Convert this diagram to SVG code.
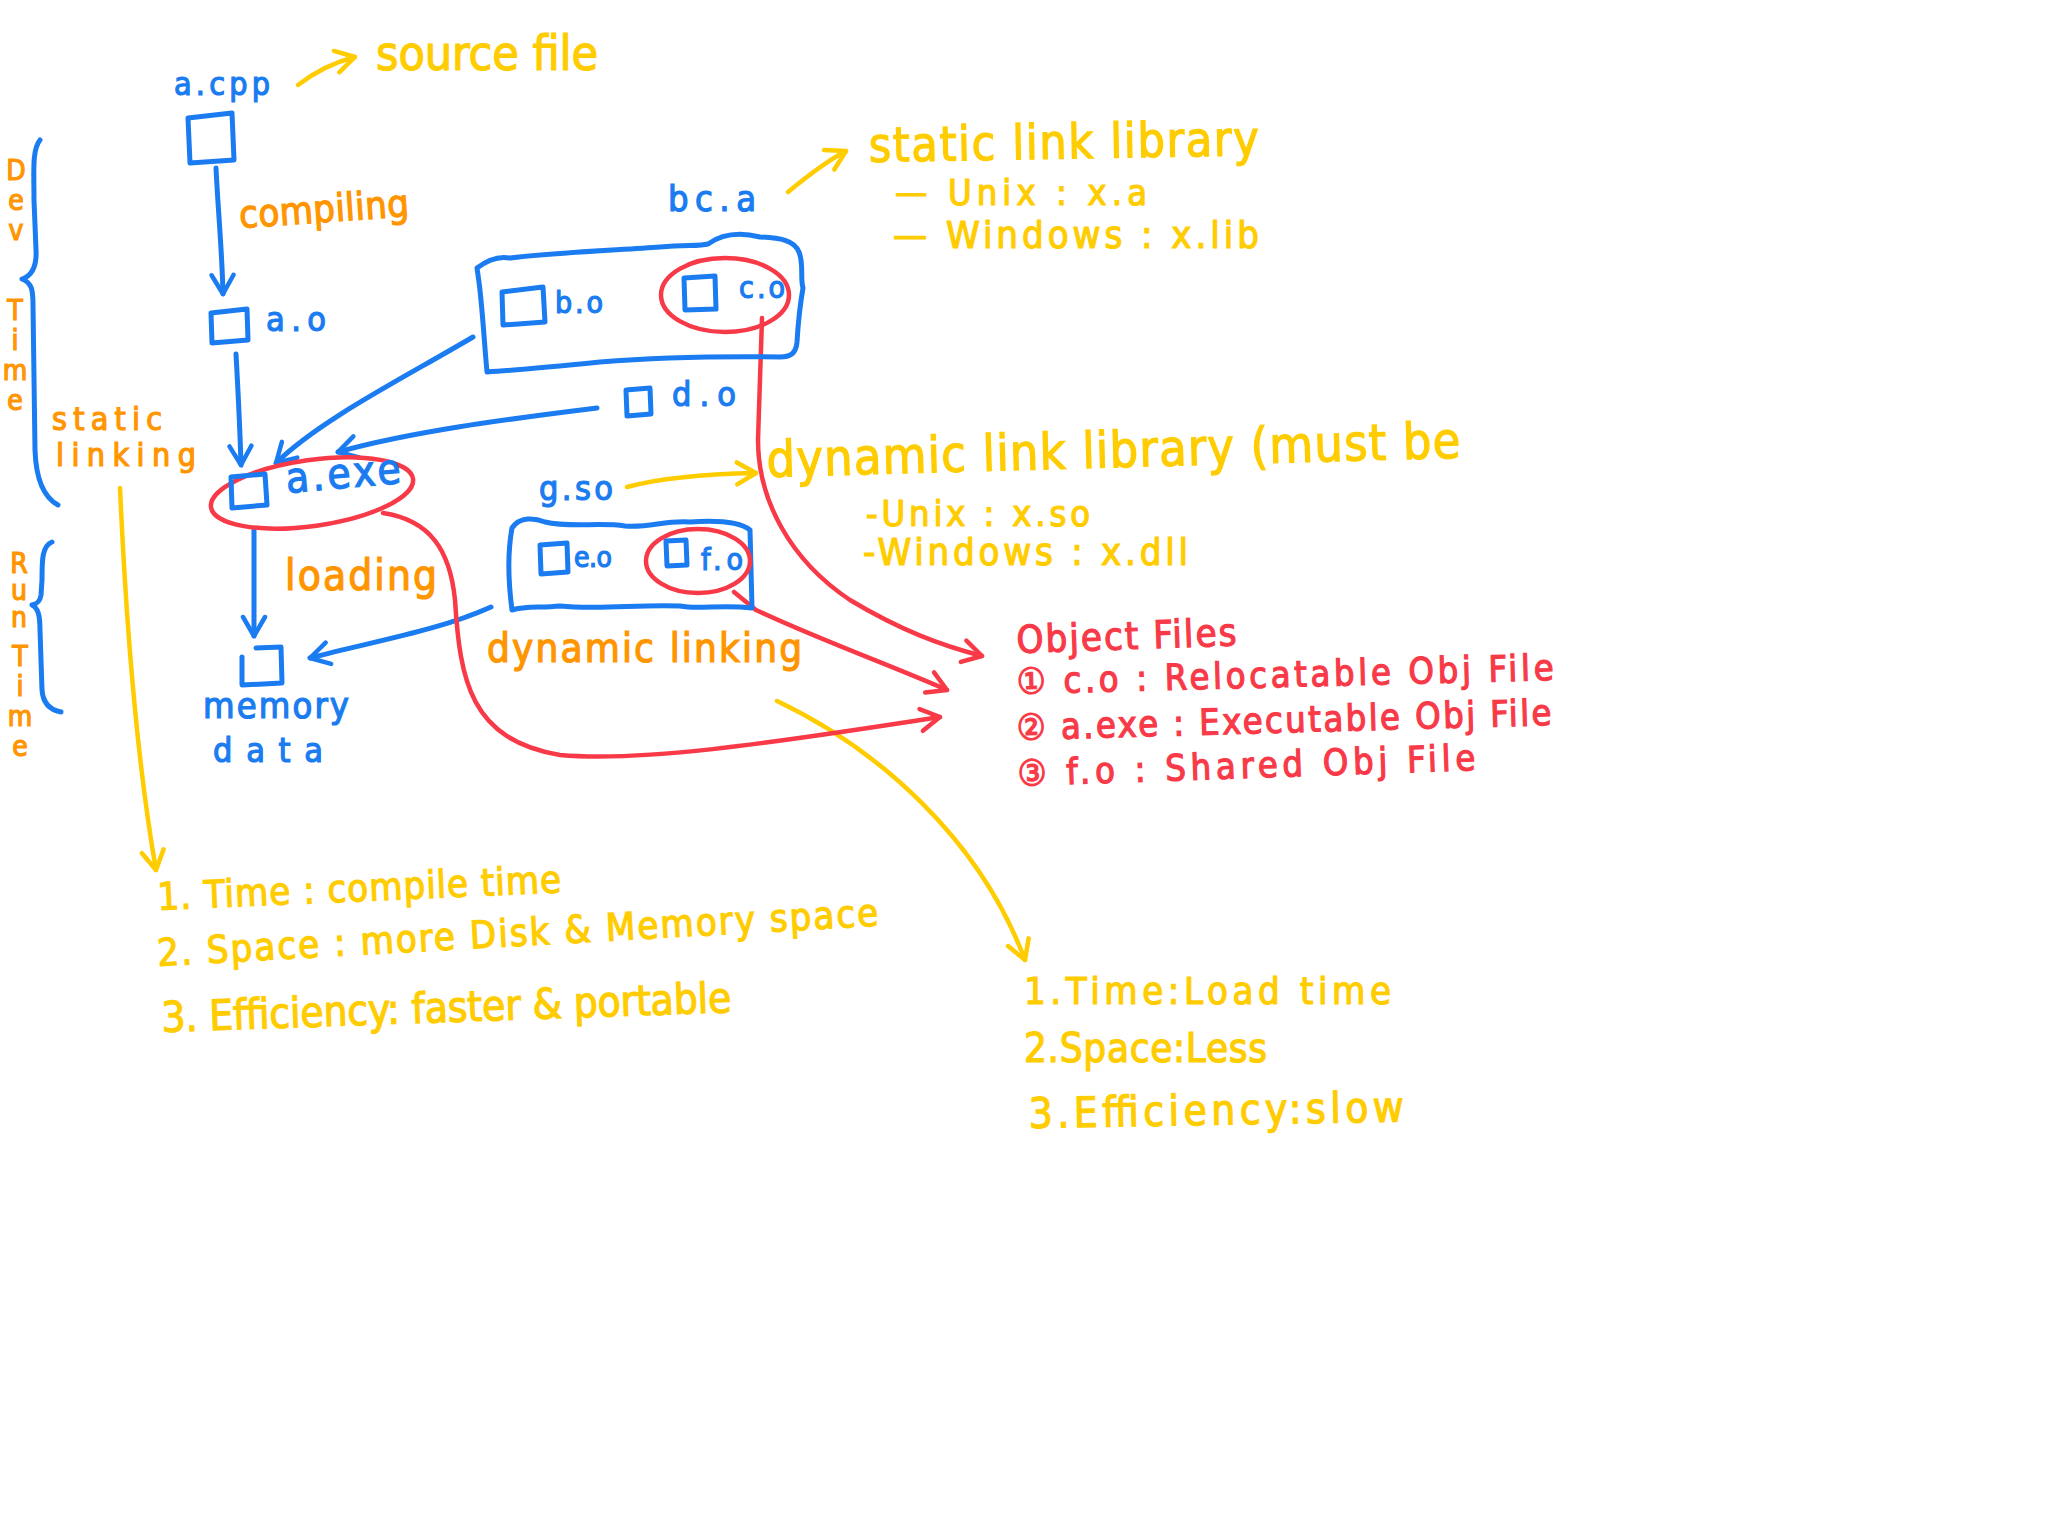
<svg xmlns="http://www.w3.org/2000/svg" width="2048" height="1536" viewBox="0 0 2048 1536">
<style>
.b{stroke:#1A7CF0;fill:none;stroke-width:5;stroke-linecap:round;stroke-linejoin:round}
.r{stroke:#F83A48;fill:none;stroke-width:4.5;stroke-linecap:round;stroke-linejoin:round}
.y{stroke:#FFCC00;fill:none;stroke-width:4.5;stroke-linecap:round;stroke-linejoin:round}
text{font-family:"Liberation Sans Narrow","DejaVu Sans Condensed","Liberation Sans",sans-serif;stroke-width:1.2}
.tb{fill:#1A7CF0;stroke:#1A7CF0}
.to{fill:#FF9500;stroke:#FF9500}
.ty{fill:#FFCC00;stroke:#FFCC00}
.tr{fill:#F83A48;stroke:#F83A48}
.v{font-size:28px;writing-mode:vertical-rl;text-orientation:upright;letter-spacing:-3px}
</style>
<defs>
<marker id="ab" viewBox="0 0 30 30" refX="26" refY="15" markerWidth="30" markerHeight="30" orient="auto" markerUnits="userSpaceOnUse"><path d="M7,4 L26,15 L7,26" fill="none" stroke="#1A7CF0" stroke-width="4.5" stroke-linecap="round" stroke-linejoin="round"/></marker>
<marker id="ar" viewBox="0 0 30 30" refX="26" refY="15" markerWidth="30" markerHeight="30" orient="auto" markerUnits="userSpaceOnUse"><path d="M7,4 L26,15 L7,26" fill="none" stroke="#F83A48" stroke-width="4.5" stroke-linecap="round" stroke-linejoin="round"/></marker>
<marker id="ay" viewBox="0 0 30 30" refX="26" refY="15" markerWidth="30" markerHeight="30" orient="auto" markerUnits="userSpaceOnUse"><path d="M7,4 L26,15 L7,26" fill="none" stroke="#FFCC00" stroke-width="4.5" stroke-linecap="round" stroke-linejoin="round"/></marker>
</defs>
<rect width="2048" height="1536" fill="#ffffff"/>

<g id="connectors">
<path class="b" d="M216,168 C218,210 222,250 223,294" marker-end="url(#ab)"/>
<path class="b" d="M236,354 C238,390 240,430 241,465" marker-end="url(#ab)"/>
<path class="b" d="M473,337 C400,380 320,420 276,463" marker-end="url(#ab)"/>
<path class="b" d="M597,408 C500,420 410,432 338,452" marker-end="url(#ab)"/>
<path class="b" d="M254,530 L254,636" marker-end="url(#ab)"/>
<path class="b" d="M491,607 C440,630 380,640 310,658" marker-end="url(#ab)"/>
<path class="y" d="M298,85 C315,72 335,62 355,57" marker-end="url(#ay)"/>
<path class="y" d="M788,192 C805,178 825,162 846,151" marker-end="url(#ay)"/>
<path class="y" d="M627,487 C660,478 710,474 756,473" marker-end="url(#ay)"/>
<path class="y" d="M120,488 C125,600 135,750 156,870" marker-end="url(#ay)"/>
<path class="y" d="M777,701 C880,750 980,840 1025,960" marker-end="url(#ay)"/>
<path class="r" d="M762,318 L758,440 C758,500 790,560 850,600 C900,630 940,645 982,656" marker-end="url(#ar)"/>
<path class="r" d="M734,592 L756,610 C820,640 890,665 947,690" marker-end="url(#ar)"/>
<path class="r" d="M383,513 C430,520 450,550 455,600 C460,680 470,740 560,755 C640,762 760,745 940,717" marker-end="url(#ar)"/>
</g>

<g id="a_cpp">
<text class="tb" x="174" y="95" font-size="32" textLength="96">a.cpp</text>
<path class="b" d="M188,118 L232,113 L234,160 L190,163 Z"/>
</g>
<g id="source_file_label">
<text class="ty" x="376" y="70" font-size="48" textLength="222">source file</text>
</g>
<g id="compiling_label">
<text class="to" x="240" y="228" font-size="38" textLength="170" transform="rotate(-4 240 228)">compiling</text>
</g>
<g id="a_o">
<path class="b" d="M211,313 L247,309 L248,340 L212,343 Z"/>
<text class="tb" x="266" y="331" font-size="34" textLength="60">a.o</text>
</g>
<g id="dev_time">
<path class="b" d="M40,140 C32,150 34,170 34,200 L36,250 C37,268 31,276 22,279 C32,283 33,290 33,305 L35,450 C36,480 45,498 58,505"/>
<text class="to v" x="16" y="154">Dev</text>
<text class="to v" x="15" y="294">Time</text>
</g>
<g id="static_linking_label">
<text class="to" x="52" y="430" font-size="32" textLength="110">static</text>
<text class="to" x="56" y="466" font-size="32" textLength="140">linking</text>
</g>
<g id="a_exe">
<ellipse class="r" cx="312" cy="493" rx="102" ry="33" transform="rotate(-8 312 493)"/>
<path class="b" d="M231,477 L265,474 L267,505 L232,508 Z"/>
<text class="tb" x="287" y="493" font-size="42" textLength="115" transform="rotate(-5 287 493)">a.exe</text>
</g>
<g id="bc_a">
<text class="tb" x="668" y="211" font-size="36" textLength="88">bc.a</text>
<path class="b" d="M477,268 C490,258 500,256 510,258 C560,252 620,250 660,247 C690,245 700,246 708,244 C722,234 740,232 760,237 C780,238 794,240 799,252 C804,265 800,278 803,288 C800,305 798,325 797,342 C796,354 790,357 780,357 C700,356 650,358 600,362 C560,366 520,370 487,372 C484,340 482,300 478,275 Z"/>
</g>
<g id="b_o">
<path class="b" d="M502,292 L543,287 L545,322 L503,325 Z"/>
<text class="tb" x="555" y="313" font-size="30" textLength="48">b.o</text>
</g>
<g id="c_o">
<ellipse class="r" cx="725" cy="295" rx="64" ry="37"/>
<path class="b" d="M684,278 L715,276 L716,309 L685,310 Z"/>
<text class="tb" x="739" y="298" font-size="30" textLength="46">c.o</text>
</g>
<g id="d_o">
<path class="b" d="M626,390 L650,388 L651,414 L627,416 Z"/>
<text class="tb" x="672" y="406" font-size="34" textLength="64">d.o</text>
</g>
<g id="static_link_library_label">
<text class="ty" x="869" y="162" font-size="48" textLength="390" transform="rotate(-1 869 162)">static link library</text>
<text class="ty" x="895" y="205" font-size="36" textLength="252">— Unix : x.a</text>
<text class="ty" x="893" y="248" font-size="38" textLength="366">— Windows : x.lib</text>
</g>
<g id="g_so">
<text class="tb" x="539" y="500" font-size="34" textLength="74">g.so</text>
<path class="b" d="M512,528 C520,516 535,518 545,522 C570,528 600,522 625,526 C650,528 665,520 690,522 C720,520 740,522 750,530 L752,608 C720,604 700,610 680,606 C640,604 600,610 560,606 C540,608 525,606 512,610 C508,580 508,550 512,528 Z"/>
</g>
<g id="e_o">
<path class="b" d="M540,545 L567,543 L568,572 L541,574 Z"/>
<text class="tb" x="574" y="567" font-size="28" textLength="38">e.o</text>
</g>
<g id="f_o">
<ellipse class="r" cx="698" cy="561" rx="52" ry="32"/>
<path class="b" d="M666,541 L686,540 L687,565 L667,566 Z"/>
<text class="tb" x="701" y="570" font-size="30" textLength="42">f.o</text>
</g>
<g id="dynamic_link_library_label">
<text class="ty" x="767" y="477" font-size="50" textLength="694" transform="rotate(-1.6 767 477)">dynamic link library (must be</text>
<text class="ty" x="866" y="526" font-size="36" textLength="224">-Unix : x.so</text>
<text class="ty" x="863" y="565" font-size="38" textLength="325">-Windows : x.dll</text>
</g>
<g id="run_time">
<path class="b" d="M52,542 C42,546 42,560 42,580 L41,595 C40,602 37,604 32,605 C38,608 40,615 40,630 L42,690 C43,703 50,710 61,712"/>
<text class="to v" x="19" y="547" style="letter-spacing:-6px">Run</text>
<text class="to v" x="20" y="640">Time</text>
</g>
<g id="loading_label">
<text class="to" x="285" y="590" font-size="42" textLength="152">loading</text>
</g>
<g id="memory">
<path class="b" d="M256,648 L281,647 L282,683 L242,685 L242,657"/>
<text class="tb" x="203" y="718" font-size="36" textLength="146">memory</text>
<text class="tb" x="213" y="762" font-size="34" textLength="110">data</text>
</g>
<g id="dynamic_linking_label">
<text class="to" x="487" y="662" font-size="40" textLength="315">dynamic linking</text>
</g>
<g id="object_files">
<text class="tr" x="1017" y="653" font-size="38" textLength="220" transform="rotate(-2 1017 653)">Object Files</text>
<text class="tr" x="1017" y="694" font-size="36" textLength="537" transform="rotate(-1.5 1017 694)">① c.o : Relocatable Obj File</text>
<text class="tr" x="1017" y="740" font-size="36" textLength="535" transform="rotate(-1.6 1017 740)">② a.exe : Executable Obj File</text>
<text class="tr" x="1018" y="786" font-size="36" textLength="458" transform="rotate(-2 1018 786)">③ f.o  : Shared Obj File</text>
</g>
<g id="static_notes">
<text class="ty" x="158" y="910" font-size="38" textLength="404" transform="rotate(-2.5 158 910)">1. Time : compile time</text>
<text class="ty" x="158" y="966" font-size="38" textLength="722" transform="rotate(-3.2 158 966)">2. Space : more Disk &amp; Memory space</text>
<text class="ty" x="162" y="1032" font-size="42" textLength="570" transform="rotate(-2 162 1032)">3. Efficiency: faster &amp; portable</text>
</g>
<g id="dynamic_notes">
<text class="ty" x="1024" y="1004" font-size="38" textLength="367">1.Time:Load time</text>
<text class="ty" x="1024" y="1062" font-size="40" textLength="243">2.Space:Less</text>
<text class="ty" x="1029" y="1128" font-size="42" textLength="375" transform="rotate(-1 1029 1128)">3.Efficiency:slow</text>
</g>
</svg>
